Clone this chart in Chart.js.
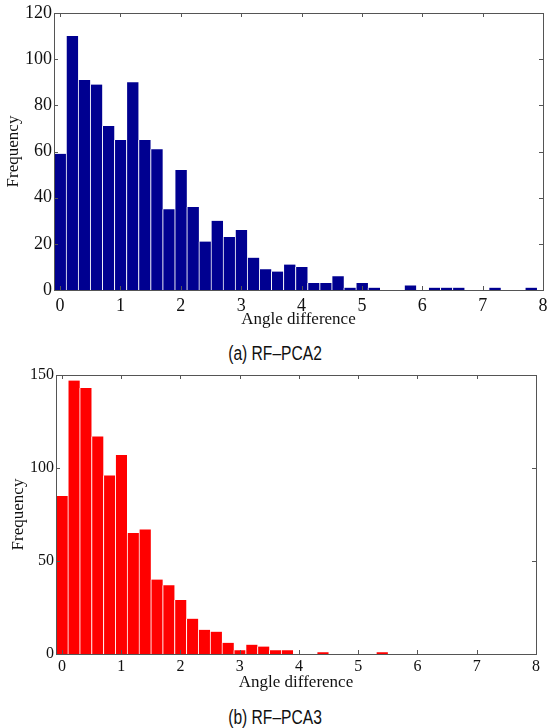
<!DOCTYPE html>
<html>
<head>
<meta charset="utf-8">
<script src="https://cdn.jsdelivr.net/npm/chart.js@4"></script>
<style>
  body { margin: 0; background: #fff; width: 547px; height: 728px; position: relative; overflow: hidden; }
  .box { position: absolute; left: 0; width: 547px; }
  .caption {
    position: absolute; left: 275px; white-space: nowrap;
    font-family: "Liberation Sans", Arial, sans-serif; font-size: 20px; line-height: 20px; color: #111;
    transform: translateX(-50%) scaleX(0.78);
  }
</style>
</head>
<body>
<div class="box" style="top:0;height:335px"><canvas id="chart-a"></canvas></div>
<div class="caption" style="top:343px">(a) RF–PCA2</div>
<div class="box" style="top:360px;height:340px"><canvas id="chart-b"></canvas></div>
<div class="caption" style="top:707px">(b) RF–PCA3</div>
<script>
// histogram bin centres (angle difference)
const binCenters = [0, 0.2, 0.4, 0.6, 0.8, 1.0, 1.2, 1.4, 1.6, 1.8,
  2.0, 2.2, 2.4, 2.6, 2.8, 3.0, 3.2, 3.4, 3.6, 3.8,
  4.0, 4.2, 4.4, 4.6, 4.8, 5.0, 5.2, 5.4, 5.6, 5.8,
  6.0, 6.2, 6.4, 6.6, 6.8, 7.0, 7.2, 7.4, 7.6, 7.8];

const freqPCA2 = [59, 110, 91, 89, 71, 65, 90, 65, 61, 35,
  52, 36, 21, 30, 23, 26, 14, 9, 8, 11,
  10, 3, 3, 6, 1, 3, 1, 0, 0, 2,
  0, 1, 1, 1, 0, 0, 1, 0, 0, 1];

const freqPCA3 = [85, 147, 143, 117, 96, 107, 65, 67, 40, 37,
  29, 19, 13, 12, 6, 2, 5, 4, 2, 2,
  0, 0, 1, 0, 0, 0, 0, 1, 0, 0,
  0, 0, 0, 0, 0, 0, 0, 0, 0, 0];

const xTicks = [0, 1, 2, 3, 4, 5, 6, 7, 8];
const yTicksA = [0, 20, 40, 60, 80, 100, 120];
const yTicksB = [0, 50, 100, 150];

// frame round the plot with small inward ticks, like the matlab axes
const framePlugin = {
  id: "frame",
  afterDraw(chart) {
    const { ctx, chartArea: a, scales } = chart;
    ctx.save();
    ctx.strokeStyle = "#555";
    ctx.lineWidth = 1;
    ctx.strokeRect(Math.round(a.left) + 0.5, Math.round(a.top) + 0.5,
      Math.round(a.right - a.left), Math.round(a.bottom - a.top));
    ctx.beginPath();
    scales.x.ticks.forEach(t => {
      const px = Math.round(scales.x.getPixelForValue(t.value)) + 0.5;
      ctx.moveTo(px, a.bottom); ctx.lineTo(px, a.bottom - 4);
      ctx.moveTo(px, a.top); ctx.lineTo(px, a.top + 4);
    });
    scales.y.ticks.forEach(t => {
      const py = Math.round(scales.y.getPixelForValue(t.value)) + 0.5;
      ctx.moveTo(a.left, py); ctx.lineTo(a.left + 4, py);
      ctx.moveTo(a.right, py); ctx.lineTo(a.right - 4, py);
    });
    ctx.stroke();
    ctx.restore();
  },
};

function histogram(id, values, color, yMax, yTicks, opts) {
  const ctx = document.getElementById(id);
  const serif = "'Liberation Serif', 'Times New Roman', serif";
  return new Chart(ctx, {
    type: "bar",
    data: {
      datasets: [
        {
          data: binCenters.map((c, i) => ({ x: c, y: values[i] })),
          backgroundColor: color,
          borderColor: "rgba(255,255,255,0.85)",
          borderWidth: { left: 1, right: 0, top: 0, bottom: 0 },
          borderSkipped: false,
          categoryPercentage: 1,
          barPercentage: 1,
        },
      ],
    },
    plugins: [framePlugin],
    options: {
      responsive: true,
      maintainAspectRatio: false,
      animation: false,
      layout: { padding: { left: 0, right: opts.padRight, top: opts.padTop, bottom: 0 } },
      plugins: { legend: { display: false }, tooltip: { enabled: false } },
      scales: {
        x: {
          type: "linear",
          offset: false,
          min: -0.1,
          max: 8,
          afterBuildTicks: (s) => { s.ticks = xTicks.map(v => ({ value: v })); },
          afterFit: (s) => {
            s.height = opts.xHeight;
            s.paddingLeft = 0;
            s.paddingRight = 0;
          },
          grid: { display: false, drawTicks: false, offset: false },
          border: { display: false },
          ticks: { padding: opts.xPad, color: "#111", font: { family: serif, size: opts.tickSize } },
          title: {
            display: true,
            text: "Angle difference",
            color: "#111",
            padding: { top: 0, bottom: opts.xTitlePad },
            font: { family: serif, size: 17 },
          },
        },
        y: {
          min: 0,
          max: yMax,
          afterBuildTicks: (s) => { s.ticks = yTicks.map(v => ({ value: v })); },
          afterFit: (s) => { s.width = opts.yWidth; },
          grid: { display: false, drawTicks: false },
          border: { display: false },
          ticks: { padding: 2, color: "#111", font: { family: serif, size: opts.tickSize } },
          title: {
            display: true,
            text: "Frequency",
            color: "#111",
            padding: { top: opts.yTitlePad, bottom: 0 },
            font: { family: serif, size: 17 },
          },
        },
      },
    },
  });
}

histogram("chart-a", freqPCA2, "#000090", 120, yTicksA,
  { padRight: 4, padTop: 13, xHeight: 45, xPad: 5, xTitlePad: 5, yWidth: 54, yTitlePad: 3, tickSize: 18 });
histogram("chart-b", freqPCA3, "#ff0000", 150, yTicksB,
  { padRight: 11, padTop: 15, xHeight: 46, xPad: 3, xTitlePad: 7, yWidth: 56, yTitlePad: 8, tickSize: 16 });
</script>
</body>
</html>
